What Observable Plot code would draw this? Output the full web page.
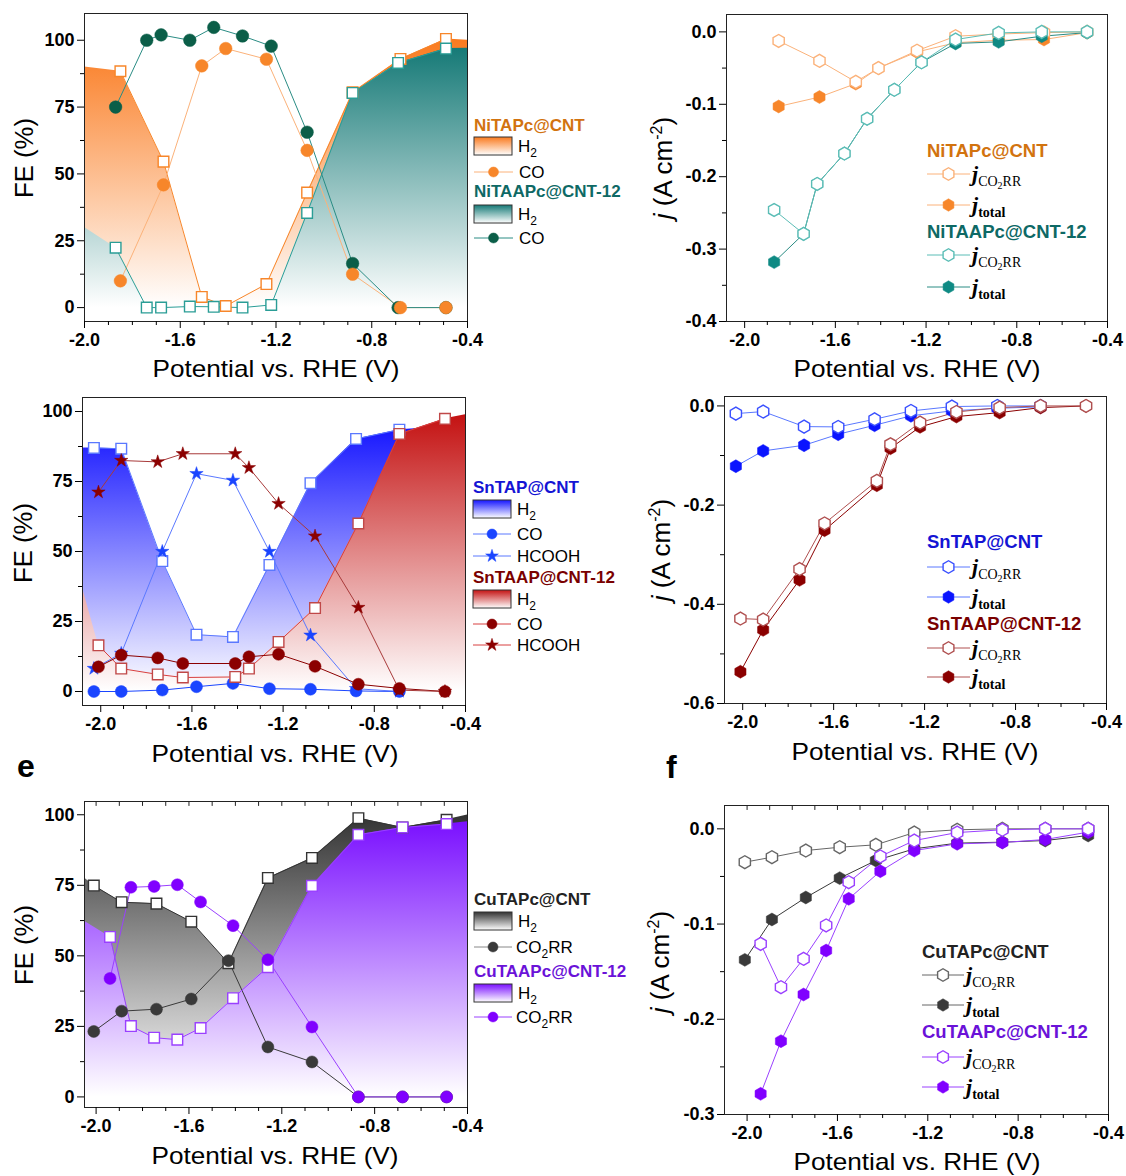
<!DOCTYPE html>
<html><head><meta charset="utf-8">
<script src="https://cdn.jsdelivr.net/npm/d3@7"></script>
<script src="https://cdn.jsdelivr.net/npm/@observablehq/plot@0.6"></script>
<style>
body{margin:0;background:#fff;}
#root{position:relative;width:1126px;height:1176px;overflow:hidden;background:#fff;}
.pp{position:absolute;}
.pp svg{overflow:visible;background:transparent;}
.pp svg text{font-family:"Liberation Sans",Arial,sans-serif;font-weight:bold;font-size:18px;}
</style></head><body><div id="root"></div>
<script>
// ---------- tick values ----------
const xMajor = [-2.0, -1.6, -1.2, -0.8, -0.4];
const xMinor = [-1.9, -1.8, -1.7, -1.5, -1.4, -1.3, -1.1, -1.0, -0.9, -0.7, -0.6, -0.5];
const feMajor = [0, 25, 50, 75, 100];
const feMinor = [12.5, 37.5, 62.5, 87.5];
const jMajorB = [0, -0.1, -0.2, -0.3, -0.4];
const jMinorB = [-0.05, -0.15, -0.25, -0.35];
const jMajorD = [0, -0.2, -0.4, -0.6];
const jMinorD = [-0.1, -0.3, -0.5];
const jMajorF = [0, -0.1, -0.2, -0.3];
const jMinorF = [-0.05, -0.15, -0.25];

// ---------- panel a / b : Ni ----------
const niTapV   = [-1.85, -1.67, -1.51, -1.41, -1.24, -1.07, -0.88, -0.68, -0.49];
const niTapH2  = [88.4, 54.6, 4.0, 0.6, 8.8, 43.0, 80.5, 93.0, 100.5];
const niTapCO  = [10.0, 45.9, 90.4, 96.9, 92.9, 58.8, 12.5, 0, 0];
const niTapH2Edge = [90, 100];
const niTaapV  = [-1.87, -1.74, -1.68, -1.56, -1.46, -1.34, -1.22, -1.07, -0.88, -0.69, -0.49];
const niTaapH2 = [22.4, 0, 0, 0.4, 0.3, 0, 1.0, 35.4, 80.3, 91.5, 96.9];
const niTaapCO = [75.0, 100.0, 102.0, 100.0, 104.8, 101.6, 97.8, 65.6, 16.5, 0, 0];
const niTaapH2Edge = [30, 97];
const niTapJco2  = [-0.0125, -0.040, -0.069, -0.050, -0.026, -0.006, -0.003, -0.001, 0];
const niTapJtot  = [-0.103, -0.090, -0.0715, -0.050, -0.0277, -0.015, -0.0115, -0.0106, -0.001];
const niTaapJco2 = [-0.246, -0.279, -0.210, -0.168, -0.120, -0.080, -0.042, -0.0106, -0.0014, 0, 0];
const niTaapJtot = [-0.318, -0.279, -0.210, -0.168, -0.120, -0.080, -0.042, -0.016, -0.0138, -0.006, -0.001];

// ---------- panel c / d : Sn ----------
const snTapV     = [-2.03, -1.91, -1.73, -1.58, -1.42, -1.26, -1.08, -0.88, -0.69];
const snTapH2    = [87.0, 86.7, 46.6, 20.3, 19.5, 45.2, 74.4, 90.2, 93.5];
const snTapCO    = [0, 0, 0.5, 1.7, 2.9, 1.0, 0.8, 0.2, 0];
const snTapHCOOH = [8.2, 13.6, 50.0, 77.8, 75.4, 50.0, 20.1, 1.0, 0];
const snTapH2Edge = [87, 95];
const snTaapV     = [-2.01, -1.91, -1.75, -1.64, -1.41, -1.35, -1.22, -1.06, -0.87, -0.69, -0.49];
const snTaapH2    = [16.5, 8.2, 6.1, 5.0, 5.2, 8.2, 17.7, 29.8, 60.0, 92.0, 97.4];
const snTaapCO    = [8.8, 13.0, 12.0, 10.0, 10.0, 12.4, 13.3, 9.0, 2.6, 1.1, 0];
const snTaapHCOOH = [71.2, 82.5, 82.0, 84.9, 84.9, 79.9, 67.1, 55.5, 30.0, 0.5, 0];
const snTaapH2Edge = [37, 98.8];
const snTapJco2  = [-0.0155, -0.0114, -0.0417, -0.0423, -0.0269, -0.0101, -0.0013, 0, 0];
const snTapJtot  = [-0.1216, -0.0907, -0.0793, -0.0571, -0.039, -0.020, -0.010, -0.0047, -0.002];
const snTaapJco2 = [-0.4287, -0.4307, -0.329, -0.237, -0.151, -0.0773, -0.0336, -0.0121, -0.0034, 0, 0];
const snTaapJtot = [-0.536, -0.4515, -0.3507, -0.2506, -0.160, -0.0853, -0.0423, -0.0215, -0.0134, -0.0034, 0];

// ---------- panel e / f : Cu ----------
const cuTapV      = [-2.01, -1.89, -1.74, -1.59, -1.43, -1.26, -1.07, -0.87, -0.68, -0.49];
const cuTapH2     = [74.9, 69.0, 68.5, 62.1, 47.4, 77.6, 84.7, 98.8, 95.5, 98.2];
const cuTapCO2RR  = [23.2, 30.4, 31.1, 34.7, 48.3, 17.7, 12.4, 0, 0, 0];
const cuTapH2Edge = [77.6, 99.9];
const cuTaapV     = [-1.94, -1.85, -1.75, -1.65, -1.55, -1.41, -1.26, -1.07, -0.87, -0.68, -0.49];
const cuTaapH2    = [56.7, 25.1, 21.0, 20.3, 24.4, 35.0, 46.0, 74.8, 92.9, 95.5, 96.7];
const cuTaapCO2RR = [42.0, 74.3, 74.6, 75.2, 69.1, 60.7, 48.6, 24.8, 0, 0, 0];
const cuTaapH2Edge = [62.3, 97.5];
const cuTapJco2  = [-0.035, -0.0298, -0.0228, -0.0193, -0.0168, -0.0039, -0.001, 0, 0, 0];
const cuTapJtot  = [-0.1376, -0.0952, -0.0721, -0.0518, -0.0333, -0.021, -0.015, -0.014, -0.0123, -0.007];
const cuTaapJco2 = [-0.1208, -0.1663, -0.1365, -0.1015, -0.056, -0.029, -0.0123, -0.0039, -0.001, 0, 0];
const cuTaapJtot = [-0.2783, -0.223, -0.174, -0.1278, -0.0735, -0.0445, -0.0228, -0.0158, -0.0144, -0.0112, -0.0035];

// ---------- colours ----------
const C = {
  orange: "#F7862A", orangeLight: "#FBB27A", orangeArea: "#FA7A1E", orangeTitle: "#D2730F",
  tealSq: "#2A9D96", tealLine: "#2A8C84", darkGreen: "#0B5E48", tealArea: "#167A77", tealTitle: "#0E6965",
  tealFill: "#0F8A84", tealOpen: "#5BBDB6",
  blue: "#1A45FF", blueLine: "#5A78FF", blueArea: "#1515FF", blueTitle: "#1414D4",
  red: "#8B0000", redSq: "#C04848", redLine: "#D84040", redArea: "#C41212", redTitle: "#7A0000", redOpen: "#B05050",
  grey: "#3A3A3A", greySq: "#333333", greyArea: "#333333", greyTitle: "#222222", greyOpen: "#666666",
  purple: "#8000FF", purpleLine: "#9A40FF", purpleArea: "#7A10FF", purpleTitle: "#6A12D8"
};

const SANS = '"Liberation Sans", Arial, sans-serif';
const SERIF = '"Liberation Serif", "Times New Roman", serif';
const root = d3.select("#root");

const pts = (xs, ys) => xs.map((x, i) => ({x, y: ys[i]}));
const areaPts = (xs, ys, edge, dom) => [{x: dom[0], y: edge[0]}, ...pts(xs, ys), {x: dom[1], y: edge[1]}];

function defsMark(list) {
  return () => {
    const g = d3.create("svg:g");
    const defs = g.append("defs");
    for (const [id, color] of list) {
      const lg = defs.append("linearGradient").attr("id", id).attr("x1", 0).attr("y1", 0).attr("x2", 0).attr("y2", 1);
      lg.append("stop").attr("offset", "0").attr("stop-color", color);
      lg.append("stop").attr("offset", "1").attr("stop-color", "#ffffff");
    }
    return g.node();
  };
}

function panel({left, top, width, height, mL, mR, mT, mB, xDom, yDom, yMajor, yMinor, yFmt, topTicks, grads, marks}) {
  const axes = [
    Plot.axisX({ticks: xMajor, tickFormat: d => d.toFixed(1), tickSize: 7, tickPadding: 5, label: null}),
    Plot.axisX({ticks: xMinor, tickFormat: () => "", tickSize: 4, label: null}),
    Plot.axisY({ticks: yMajor, tickFormat: yFmt, tickSize: 7, tickPadding: 3, label: null}),
    Plot.axisY({ticks: yMinor, tickFormat: () => "", tickSize: 4, label: null})
  ];
  if (topTicks) {
    // short inward ticks hanging from the top edge of the frame
    const span = yDom[1] - yDom[0];
    axes.push(Plot.ruleX([...xMajor, ...xMinor], {x: d => d, y1: yDom[1], y2: yDom[1] - span * 0.016, stroke: "#222", strokeWidth: 1}));
  }
  const p = Plot.plot({
    width, height, marginLeft: mL, marginRight: mR, marginTop: mT, marginBottom: mB,
    x: {domain: xDom}, y: {domain: yDom},
    marks: [defsMark(grads || []), ...marks, Plot.frame({stroke: "#222", strokeWidth: 1}), ...axes]
  });
  const div = root.append("div").attr("class", "pp").style("left", left + "px").style("top", top + "px");
  div.node().appendChild(p);
}

const line = (xs, ys, stroke, sw = 1) => Plot.line(pts(xs, ys), {x: "x", y: "y", stroke, strokeWidth: sw});
const openDot = (xs, ys, symbol, stroke, r) => Plot.dot(pts(xs, ys), {x: "x", y: "y", symbol, r, fill: "#fff", stroke, strokeWidth: 1.4});
const fillDot = (xs, ys, symbol, fill, r) => Plot.dot(pts(xs, ys), {x: "x", y: "y", symbol, r, fill, stroke: fill, strokeWidth: 0.5});

const feFmt = d => String(d);
const jFmt = d => d.toFixed(1);

// ---------- panel a ----------
const domA = [-2.0, -0.4];
panel({left: 0, top: 0, width: 480, height: 390, mL: 84, mR: 13, mT: 13, mB: 69,
  xDom: domA, yDom: [-5.2, 110], yMajor: feMajor, yMinor: feMinor, yFmt: feFmt,
  grads: [["gA1", C.orangeArea], ["gA2", C.tealArea]],
  marks: [
    Plot.areaY(areaPts(niTapV, niTapH2, niTapH2Edge, domA), {x: "x", y: "y", fill: "url(#gA1)"}),
    Plot.areaY(areaPts(niTaapV, niTaapH2, niTaapH2Edge, domA), {x: "x", y: "y", fill: "url(#gA2)"}),
    line(niTapV, niTapH2, C.orange), line(niTapV, niTapCO, C.orangeLight),
    line(niTaapV, niTaapH2, C.tealSq), line(niTaapV, niTaapCO, C.tealLine),
    openDot(niTapV, niTapH2, "square", C.orange, 6),
    openDot(niTaapV, niTaapH2, "square", C.tealSq, 6),
    fillDot(niTaapV, niTaapCO, "circle", C.darkGreen, 6.3),
    fillDot(niTapV, niTapCO, "circle", C.orange, 6.3)
  ]});

// ---------- panel b ----------
panel({left: 640, top: 0, width: 486, height: 390, mL: 86, mR: 19, mT: 14, mB: 69,
  xDom: [-2.08, -0.4], yDom: [-0.4, 0.024], yMajor: jMajorB, yMinor: jMinorB, yFmt: jFmt,
  marks: [
    line(niTapV, niTapJtot, C.orangeLight), line(niTapV, niTapJco2, C.orangeLight),
    line(niTaapV, niTaapJtot, C.tealLine), line(niTaapV, niTaapJco2, C.tealOpen),
    fillDot(niTapV, niTapJtot, "hexagon", C.orange, 5.6),
    openDot(niTapV, niTapJco2, "hexagon", C.orangeLight, 5.6),
    fillDot(niTaapV, niTaapJtot, "hexagon", C.tealFill, 5.6),
    openDot(niTaapV, niTaapJco2, "hexagon", C.tealOpen, 5.6)
  ]});

// ---------- panel c ----------
const domC = [-2.08, -0.4];
panel({left: 0, top: 390, width: 480, height: 380, mL: 82, mR: 15, mT: 7, mB: 65,
  xDom: domC, yDom: [-5, 105], yMajor: feMajor, yMinor: feMinor, yFmt: feFmt,
  grads: [["gC1", C.blueArea], ["gC2", C.redArea]],
  marks: [
    Plot.areaY(areaPts(snTapV, snTapH2, snTapH2Edge, domC), {x: "x", y: "y", fill: "url(#gC1)"}),
    Plot.areaY(areaPts(snTaapV, snTaapH2, snTaapH2Edge, domC), {x: "x", y: "y", fill: "url(#gC2)"}),
    line(snTapV, snTapH2, C.blueLine), line(snTapV, snTapCO, C.blue), line(snTapV, snTapHCOOH, C.blueLine),
    line(snTaapV, snTaapH2, C.redLine), line(snTaapV, snTaapCO, C.red), line(snTaapV, snTaapHCOOH, "#A83A3A"),
    openDot(snTapV, snTapH2, "square", C.blueLine, 6),
    fillDot(snTapV, snTapCO, "circle", C.blue, 6),
    fillDot(snTapV, snTapHCOOH, "star", C.blue, 4.2),
    openDot(snTaapV, snTaapH2, "square", C.redSq, 6),
    fillDot(snTaapV, snTaapCO, "circle", C.red, 6),
    fillDot(snTaapV, snTaapHCOOH, "star", C.red, 4.2)
  ]});

// ---------- panel d ----------
panel({left: 640, top: 390, width: 486, height: 380, mL: 84, mR: 20, mT: 6, mB: 67,
  xDom: [-2.08, -0.4], yDom: [-0.6, 0.019], yMajor: jMajorD, yMinor: jMinorD, yFmt: jFmt,
  marks: [
    line(snTapV, snTapJtot, C.blueLine), line(snTapV, snTapJco2, C.blueLine),
    line(snTaapV, snTaapJtot, C.red), line(snTaapV, snTaapJco2, C.redOpen),
    fillDot(snTapV, snTapJtot, "hexagon", "#0A14FF", 5.6),
    openDot(snTapV, snTapJco2, "hexagon", "#3A50FF", 5.6),
    fillDot(snTaapV, snTaapJtot, "hexagon", C.red, 5.6),
    openDot(snTaapV, snTaapJco2, "hexagon", C.redOpen, 5.6)
  ]});

// ---------- panel e ----------
const domE = [-2.05, -0.4];
panel({left: 0, top: 770, width: 480, height: 406, mL: 84, mR: 13, mT: 31, mB: 69,
  xDom: domE, yDom: [-3.75, 104.7], yMajor: feMajor, yMinor: feMinor, yFmt: feFmt, topTicks: true,
  grads: [["gE1", C.greyArea], ["gE2", C.purpleArea]],
  marks: [
    Plot.areaY(areaPts(cuTapV, cuTapH2, cuTapH2Edge, domE), {x: "x", y: "y", fill: "url(#gE1)"}),
    Plot.areaY(areaPts(cuTaapV, cuTaapH2, cuTaapH2Edge, domE), {x: "x", y: "y", fill: "url(#gE2)"}),
    line(cuTapV, cuTapH2, C.greySq), line(cuTapV, cuTapCO2RR, C.grey),
    line(cuTaapV, cuTaapH2, C.purpleLine), line(cuTaapV, cuTaapCO2RR, C.purpleLine),
    openDot(cuTapV, cuTapH2, "square", C.greySq, 6),
    fillDot(cuTapV, cuTapCO2RR, "circle", C.grey, 6),
    openDot(cuTaapV, cuTaapH2, "square", C.purpleLine, 6),
    fillDot(cuTaapV, cuTaapCO2RR, "circle", C.purple, 6)
  ]});

// ---------- panel f ----------
panel({left: 640, top: 770, width: 486, height: 406, mL: 84, mR: 18, mT: 35, mB: 62,
  xDom: [-2.1, -0.4], yDom: [-0.3, 0.0245], yMajor: jMajorF, yMinor: jMinorF, yFmt: jFmt, topTicks: true,
  marks: [
    line(cuTapV, cuTapJtot, C.grey), line(cuTapV, cuTapJco2, C.greyOpen),
    line(cuTaapV, cuTaapJtot, C.purpleLine), line(cuTaapV, cuTaapJco2, C.purpleLine),
    fillDot(cuTapV, cuTapJtot, "hexagon", C.grey, 5.6),
    openDot(cuTapV, cuTapJco2, "hexagon", C.greyOpen, 5.6),
    fillDot(cuTaapV, cuTaapJtot, "hexagon", C.purple, 5.6),
    openDot(cuTaapV, cuTaapJco2, "hexagon", C.purpleLine, 5.6)
  ]});

// ---------- overlay: axis titles, panel letters, legends ----------
const ov = root.append("svg").attr("width", 1126).attr("height", 1176)
  .style("position", "absolute").style("left", "0px").style("top", "0px").style("pointer-events", "none");
const od = ov.append("defs");
function ovGrad(id, color) {
  const lg = od.append("linearGradient").attr("id", id).attr("x1", 0).attr("y1", 0).attr("x2", 0).attr("y2", 1);
  lg.append("stop").attr("offset", "0").attr("stop-color", color);
  lg.append("stop").attr("offset", "1").attr("stop-color", "#ffffff");
}
ovGrad("lgA1", C.orangeArea); ovGrad("lgA2", C.tealArea);
ovGrad("lgC1", C.blueArea); ovGrad("lgC2", C.redArea);
ovGrad("lgE1", C.greyArea); ovGrad("lgE2", C.purpleArea);

function xTitle(cx, base) {
  ov.append("text").attr("x", cx).attr("y", base).attr("text-anchor", "middle")
    .attr("font-family", SANS).attr("font-size", 24).attr("textLength", 247).attr("lengthAdjust", "spacingAndGlyphs")
    .text("Potential vs. RHE (V)");
}
function feTitle(bx, cy) {
  ov.append("text").attr("transform", `translate(${bx},${cy}) rotate(-90)`).attr("text-anchor", "middle")
    .attr("font-family", SANS).attr("font-size", 26).attr("textLength", 80).attr("lengthAdjust", "spacingAndGlyphs")
    .text("FE (%)");
}
function jTitle(bx, cy) {
  const t = ov.append("text").attr("transform", `translate(${bx},${cy}) rotate(-90)`).attr("text-anchor", "middle")
    .attr("font-family", SANS).attr("font-size", 26);
  t.append("tspan").attr("font-style", "italic").text("j");
  t.append("tspan").text(" (A cm");
  t.append("tspan").attr("dy", -10).attr("font-size", 16).text("-2");
  t.append("tspan").attr("dy", 10).text(")");
}
xTitle(276, 377); xTitle(917, 377);
xTitle(275, 762); xTitle(915, 760);
xTitle(275, 1164); xTitle(917, 1170);
feTitle(33, 158); feTitle(32, 543); feTitle(33, 945);
jTitle(672, 168); jTitle(670, 550); jTitle(669, 962);

ov.append("text").attr("x", 17).attr("y", 777).attr("font-family", SANS).attr("font-weight", "bold").attr("font-size", 32).text("e");
ov.append("text").attr("x", 666).attr("y", 778).attr("font-family", SANS).attr("font-weight", "bold").attr("font-size", 32).text("f");

function legTitle(x, y, text, color, size) {
  ov.append("text").attr("x", x).attr("y", y).attr("font-family", SANS).attr("font-weight", "bold")
    .attr("font-size", size).attr("fill", color).text(text);
}
function legArea(x, y, grad) {
  ov.append("rect").attr("x", x).attr("y", y).attr("width", 38).attr("height", 18)
    .attr("fill", `url(#${grad})`).attr("stroke", "#333").attr("stroke-width", 1);
  const t = ov.append("text").attr("x", x + 44).attr("y", y + 15).attr("font-family", SANS).attr("font-size", 17);
  t.append("tspan").text("H");
  t.append("tspan").attr("dy", 5).attr("font-size", 12).text("2");
}
const hexPath = r => {
  const rx = r, ry = r * 2 / Math.sqrt(3), hy = ry / 2;
  return `M0,${ry}L${rx},${hy}L${rx},${-hy}L0,${-ry}L${-rx},${-hy}L${-rx},${hy}Z`;
};
function symPath(sym, r) {
  if (sym === "hexagon") return hexPath(r);
  const type = sym === "star" ? d3.symbolStar : d3.symbolCircle;
  return d3.symbol(type, Math.PI * r * r)();
}
function legMarker(x, y, len, lineColor, sym, r, fill, stroke) {
  ov.append("line").attr("x1", x).attr("x2", x + len).attr("y1", y).attr("y2", y).attr("stroke", lineColor).attr("stroke-width", 1);
  ov.append("path").attr("transform", `translate(${x + len / 2},${y})`).attr("d", symPath(sym, r))
    .attr("fill", fill).attr("stroke", stroke).attr("stroke-width", fill === "#fff" ? 1.4 : 0.5);
}
function legText(x, y, kind) {
  const t = ov.append("text").attr("x", x).attr("y", y).attr("font-family", SANS).attr("font-size", 17);
  if (kind === "CO2RR") {
    t.append("tspan").text("CO");
    t.append("tspan").attr("dy", 5).attr("font-size", 12).text("2");
    t.append("tspan").attr("dy", -5).text("RR");
  } else t.text(kind);
}
function jLabel(x, y, kind) {
  const t = ov.append("text").attr("x", x).attr("y", y).attr("font-family", SERIF).attr("font-weight", "bold");
  t.append("tspan").attr("font-style", "italic").attr("font-size", 22).text("j");
  if (kind === "co2") {
    t.append("tspan").attr("dy", 5).attr("font-size", 14).attr("font-weight", "normal").text("CO");
    t.append("tspan").attr("dy", 3).attr("font-size", 10).attr("font-weight", "normal").text("2");
    t.append("tspan").attr("dy", -3).attr("font-size", 14).attr("font-weight", "normal").text("RR");
  } else {
    t.append("tspan").attr("dy", 5).attr("font-size", 14).text("total");
  }
}

// legend a
legTitle(474, 131, "NiTAPc@CNT", C.orangeTitle, 17);
legArea(474, 137, "lgA1");
legMarker(474, 172, 39, C.orangeLight, "circle", 5, C.orange, C.orange); legText(519, 178, "CO");
legTitle(474, 197, "NiTAAPc@CNT-12", C.tealTitle, 17);
legArea(474, 205, "lgA2");
legMarker(474, 238, 39, C.tealLine, "circle", 5, C.darkGreen, C.darkGreen); legText(519, 244, "CO");

// legend c
legTitle(473, 493, "SnTAP@CNT", C.blueTitle, 17);
legArea(473, 500, "lgC1");
legMarker(473, 534, 38, C.blueLine, "circle", 5, C.blue, C.blue); legText(517, 540, "CO");
legMarker(473, 556, 38, C.blueLine, "star", 4, C.blue, C.blue); legText(517, 562, "HCOOH");
legTitle(473, 583, "SnTAAP@CNT-12", C.redTitle, 17);
legArea(473, 590, "lgC2");
legMarker(473, 624, 38, C.redLine, "circle", 5, C.red, C.red); legText(517, 630, "CO");
legMarker(473, 645, 38, C.redLine, "star", 4, C.red, C.red); legText(517, 651, "HCOOH");

// legend e
legTitle(474, 905, "CuTAPc@CNT", C.greyTitle, 17);
legArea(474, 912, "lgE1");
legMarker(474, 947, 38, "#888", "circle", 5, C.grey, C.grey); legText(516, 953, "CO2RR");
legTitle(474, 977, "CuTAAPc@CNT-12", C.purpleTitle, 17);
legArea(474, 984, "lgE2");
legMarker(474, 1017, 38, C.purpleLine, "circle", 5, C.purple, C.purple); legText(516, 1023, "CO2RR");

// legend b
legTitle(927, 157, "NiTAPc@CNT", C.orangeTitle, 18.5);
legMarker(927, 174, 43, C.orangeLight, "hexagon", 5.4, "#fff", C.orangeLight); jLabel(972, 181, "co2");
legMarker(927, 205, 43, C.orangeLight, "hexagon", 5.4, C.orange, C.orange); jLabel(972, 212, "tot");
legTitle(927, 238, "NiTAAPc@CNT-12", C.tealTitle, 18.5);
legMarker(927, 255, 43, C.tealOpen, "hexagon", 5.4, "#fff", C.tealOpen); jLabel(972, 262, "co2");
legMarker(927, 287, 43, C.tealLine, "hexagon", 5.4, C.tealFill, C.tealFill); jLabel(972, 294, "tot");

// legend d
legTitle(927, 548, "SnTAP@CNT", C.blueTitle, 18.5);
legMarker(927, 567, 43, C.blueLine, "hexagon", 5.4, "#fff", "#3A50FF"); jLabel(972, 574, "co2");
legMarker(927, 597, 43, C.blueLine, "hexagon", 5.4, "#0A14FF", "#0A14FF"); jLabel(972, 604, "tot");
legTitle(927, 630, "SnTAAP@CNT-12", C.redTitle, 18.5);
legMarker(927, 648, 43, C.redOpen, "hexagon", 5.4, "#fff", C.redOpen); jLabel(972, 655, "co2");
legMarker(927, 677, 43, C.redOpen, "hexagon", 5.4, C.red, C.red); jLabel(972, 684, "tot");

// legend f
legTitle(922, 958, "CuTAPc@CNT", C.greyTitle, 18.5);
legMarker(922, 975, 42, C.greyOpen, "hexagon", 5.4, "#fff", C.greyOpen); jLabel(966, 982, "co2");
legMarker(922, 1005, 42, C.greyOpen, "hexagon", 5.4, C.grey, C.grey); jLabel(966, 1012, "tot");
legTitle(922, 1038, "CuTAAPc@CNT-12", C.purpleTitle, 18.5);
legMarker(922, 1057, 42, C.purpleLine, "hexagon", 5.4, "#fff", C.purpleLine); jLabel(966, 1064, "co2");
legMarker(922, 1087, 42, C.purpleLine, "hexagon", 5.4, C.purple, C.purple); jLabel(966, 1094, "tot");
</script></body></html>
